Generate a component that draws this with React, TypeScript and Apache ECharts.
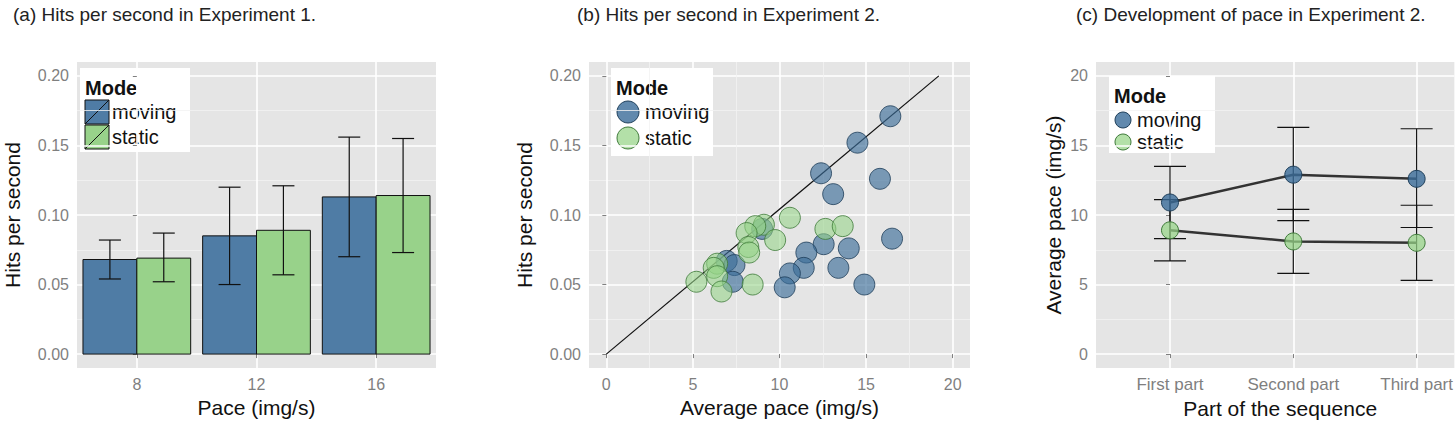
import React, { useEffect, useRef } from 'react';
import * as echarts from 'echarts';

// (a) hits per second in Experiment 1
const paceCats = ['8', '12', '16'];
const barMoving = [0.068, 0.085, 0.113];
const barMovingLo = [0.054, 0.05, 0.07];
const barMovingHi = [0.082, 0.12, 0.156];
const barStatic = [0.069, 0.089, 0.114];
const barStaticLo = [0.052, 0.057, 0.073];
const barStaticHi = [0.087, 0.121, 0.155];

// (b) pace vs hits, Experiment 2
const scatMoving = [
  [16.4, 0.171], [14.5, 0.152], [12.4, 0.13], [15.8, 0.126], [13.1, 0.115],
  [9.0, 0.09], [16.5, 0.083], [12.55, 0.079], [14.0, 0.076], [11.55, 0.073],
  [6.95, 0.067], [7.4, 0.064], [11.4, 0.062], [13.4, 0.062], [10.6, 0.058],
  [7.3, 0.052], [14.9, 0.05], [10.3, 0.048],
];
const scatStatic = [
  [10.6, 0.098], [9.1, 0.093], [8.6, 0.092], [12.65, 0.09], [13.65, 0.092],
  [8.1, 0.087], [9.75, 0.082], [8.2, 0.077], [8.25, 0.073], [6.4, 0.065],
  [6.2, 0.062], [6.4, 0.056], [5.2, 0.052], [8.45, 0.05], [6.65, 0.045],
];
const refLine = [[0, 0], [19.2, 0.2]];

// (c) development of pace
const partCats = ['First part', 'Second part', 'Third part'];
const paceMoving = [10.9, 12.9, 12.6];
const paceMovingLo = [8.3, 9.6, 9.1];
const paceMovingHi = [13.5, 16.3, 16.2];
const paceStatic = [8.9, 8.1, 8.0];
const paceStaticLo = [6.7, 5.8, 5.3];
const paceStaticHi = [11.1, 10.4, 10.7];

const hitTicks = [0, 0.05, 0.1, 0.15, 0.2];
const hitMinor = [0.025, 0.075, 0.125, 0.175];
const paceTicks = [0, 5, 10, 15, 20];
const paceMinor = [2.5, 7.5, 12.5, 17.5];

const BLUE = '#4f7ca5';
const GREEN = '#98d28a';
const PT_BLUE = 'rgba(58,108,152,0.8)';
const PT_GREEN = 'rgba(150,212,135,0.72)';
const PANEL = '#e5e5e5';
const TICK_GREY = '#7f7f7f';

const majorAxis = (ticks: number[], fmt?: (v: number) => string, size = 16) => ({
  axisLine: { show: false },
  axisTick: { show: true, customValues: ticks, length: 4, lineStyle: { color: TICK_GREY } },
  axisLabel: {
    customValues: ticks, color: TICK_GREY, fontSize: size, fontFamily: 'Liberation Sans',
    formatter: fmt, margin: 8,
  },
  splitLine: { show: true, lineStyle: { color: '#ffffff', width: 1.6 } },
});
const minorAxis = (ticks: number[]) => ({
  axisLine: { show: false },
  axisTick: { show: false, customValues: ticks },
  axisLabel: { show: false, customValues: ticks },
  splitLine: { show: true, lineStyle: { color: '#f2f2f2', width: 0.8 } },
});
const nameStyle = { fontSize: 21, color: '#111', fontFamily: 'Liberation Sans' };

const errorSeries = (xi: number, yi: number, data: number[][], lo: number[], hi: number[], half: number, offs: number) => ({
  type: 'custom',
  xAxisIndex: xi,
  yAxisIndex: yi,
  z: 5,
  silent: true,
  data: data,
  renderItem: (params: any, api: any) => {
    const i = params.dataIndex;
    const x = api.value(0) + offs;
    const a = api.coord([x, lo[i]]);
    const b = api.coord([x, hi[i]]);
    const st = { stroke: '#111', lineWidth: 1.2 };
    return {
      type: 'group',
      children: [
        { type: 'line', shape: { x1: a[0], y1: a[1], x2: b[0], y2: b[1] }, style: st },
        { type: 'line', shape: { x1: a[0] - half, y1: a[1], x2: a[0] + half, y2: a[1] }, style: st },
        { type: 'line', shape: { x1: b[0] - half, y1: b[1], x2: b[0] + half, y2: b[1] }, style: st },
      ],
    };
  },
});

const legendBox = (x: number, y: number, w: number, h: number, kind: 'bar' | 'dot', r: number, rowGap: number) => {
  const ch: any[] = [
    { type: 'rect', shape: { x: 0, y: 0, width: w, height: h }, style: { fill: '#fff' } },
    { type: 'text', x: 5, y: 20, style: { text: 'Mode', fontSize: 20, fontWeight: 'bold', fill: '#111', fontFamily: 'Liberation Sans', verticalAlign: 'middle' } },
  ];
  const labels = ['moving', 'static'];
  labels.forEach((l, i) => {
    const cy = 44 + i * rowGap;
    if (kind === 'bar') {
      ch.push({ type: 'rect', shape: { x: 5, y: cy - 12, width: 24, height: 24 }, style: { fill: i ? GREEN : BLUE, stroke: '#111', lineWidth: 1 } });
      ch.push({ type: 'line', shape: { x1: 5, y1: cy + 12, x2: 29, y2: cy - 12 }, style: { stroke: '#111', lineWidth: 1 } });
    } else {
      ch.push({ type: 'circle', shape: { cx: 6 + r, cy, r }, style: { fill: i ? PT_GREEN : PT_BLUE, stroke: i ? '#3f7a3a' : '#1f3f5a', lineWidth: 1 } });
    }
    ch.push({ type: 'text', x: kind === 'bar' ? 32 : 12 + 2 * r, y: cy, style: { text: l, fontSize: 20, fill: '#111', fontFamily: 'Liberation Sans', verticalAlign: 'middle' } });
  });
  return { type: 'group', x, y, children: ch };
};

const App: React.FC = () => {
  const chartRef = useRef<HTMLDivElement>(null);

  useEffect(() => {
    document.body.style.margin = '0';
    const chartDom = chartRef.current!;
    const myChart = echarts.init(chartDom, undefined, { renderer: 'svg' });

    const idx = (arr: number[]) => arr.map((v, i) => [i, v]);
    const titleStyle = { fontSize: 19, fontWeight: 'normal', color: '#222', fontFamily: 'Liberation Sans' };

    const option: any = {
      animation: false,
      title: [
        { text: '(a) Hits per second in Experiment 1.', left: 8, top: 0, textStyle: titleStyle },
        { text: '(b) Hits per second in Experiment 2.', left: 572, top: 0, textStyle: titleStyle },
        { text: '(c) Development of pace in Experiment 2.', left: 1071, top: 0, textStyle: titleStyle },
      ],
      grid: [
        { left: 77, width: 359, top: 62, height: 306, show: true, backgroundColor: PANEL, borderWidth: 0 },
        { left: 589, width: 381, top: 62, height: 306, show: true, backgroundColor: PANEL, borderWidth: 0 },
        { left: 1096, width: 360, top: 62, height: 306, show: true, backgroundColor: PANEL, borderWidth: 0 },
      ],
      xAxis: [
        {
          type: 'value', gridIndex: 0, min: -0.5, max: 2.5,
          ...majorAxis([0, 1, 2], (v: number) => paceCats[Math.round(v)]),
          name: 'Pace (img/s)', nameLocation: 'middle', nameGap: 29, nameTextStyle: nameStyle,
        },
        {
          type: 'value', gridIndex: 1, min: -1, max: 21,
          ...majorAxis([0, 5, 10, 15, 20]),
          name: 'Average pace (img/s)', nameLocation: 'middle', nameGap: 29, nameTextStyle: nameStyle,
        },
        {
          type: 'value', gridIndex: 2, min: -0.6, max: 2.306,
          ...majorAxis([0, 1, 2], (v: number) => partCats[Math.round(v)], 17),
          name: 'Part of the sequence', nameLocation: 'middle', nameGap: 29,
          nameTextStyle: { ...nameStyle, padding: [0, 0, 0, 10] },
        },
        { type: 'value', gridIndex: 1, min: -1, max: 21, ...minorAxis(paceMinor) },
      ],
      yAxis: [
        {
          type: 'value', gridIndex: 0, min: -0.01, max: 0.21,
          ...majorAxis(hitTicks, (v: number) => v.toFixed(2)),
          name: 'Hits per second', nameLocation: 'middle', nameGap: 54, nameTextStyle: nameStyle,
        },
        {
          type: 'value', gridIndex: 1, min: -0.01, max: 0.21,
          ...majorAxis(hitTicks, (v: number) => v.toFixed(2)),
          name: 'Hits per second', nameLocation: 'middle', nameGap: 54, nameTextStyle: nameStyle,
        },
        {
          type: 'value', gridIndex: 2, min: -1, max: 21,
          ...majorAxis(paceTicks),
          name: 'Average pace (img/s)', nameLocation: 'middle', nameGap: 32, nameTextStyle: nameStyle,
        },
        { type: 'value', gridIndex: 0, min: -0.01, max: 0.21, ...minorAxis(hitMinor) },
        { type: 'value', gridIndex: 1, min: -0.01, max: 0.21, ...minorAxis(hitMinor) },
        { type: 'value', gridIndex: 2, min: -1, max: 21, ...minorAxis(paceMinor) },
      ],
      series: [
        {
          type: 'custom', xAxisIndex: 0, yAxisIndex: 0, z: 3, data: idx(barMoving).concat(idx(barStatic).map(([i, v]) => [i + 0.45, v])),
          renderItem: (params: any, api: any) => {
            const x0 = api.value(0) - 0.45;
            const p1 = api.coord([x0, api.value(1)]);
            const p2 = api.coord([x0 + 0.45, 0]);
            const isStatic = params.dataIndex >= barMoving.length;
            return {
              type: 'rect',
              shape: { x: p1[0], y: p1[1], width: p2[0] - p1[0], height: p2[1] - p1[1] },
              style: { fill: isStatic ? GREEN : BLUE, stroke: '#111', lineWidth: 1 },
            };
          },
        },
        errorSeries(0, 0, idx(barMoving), barMovingLo, barMovingHi, 11, -0.225),
        errorSeries(0, 0, idx(barStatic), barStaticLo, barStaticHi, 11, 0.225),
        {
          type: 'line', xAxisIndex: 1, yAxisIndex: 1, data: refLine, symbol: 'none',
          lineStyle: { color: '#111', width: 1.2 }, z: 2,
        },
        {
          type: 'scatter', xAxisIndex: 1, yAxisIndex: 1, data: scatMoving, symbolSize: 21, z: 3,
          itemStyle: { color: PT_BLUE, borderColor: '#1f3f5a', borderWidth: 1 },
        },
        {
          type: 'scatter', xAxisIndex: 1, yAxisIndex: 1, data: scatStatic, symbolSize: 21, z: 3,
          itemStyle: { color: PT_GREEN, borderColor: '#3f7a3a', borderWidth: 1 },
        },
        errorSeries(2, 2, idx(paceMoving), paceMovingLo, paceMovingHi, 16, 0),
        errorSeries(2, 2, idx(paceStatic), paceStaticLo, paceStaticHi, 16, 0),
        {
          type: 'line', xAxisIndex: 2, yAxisIndex: 2, data: idx(paceMoving), symbol: 'circle', symbolSize: 17, z: 6,
          lineStyle: { color: '#333', width: 2.5 },
          itemStyle: { color: PT_BLUE, borderColor: '#1f3f5a', borderWidth: 1 },
        },
        {
          type: 'line', xAxisIndex: 2, yAxisIndex: 2, data: idx(paceStatic), symbol: 'circle', symbolSize: 17, z: 6,
          lineStyle: { color: '#333', width: 2.5 },
          itemStyle: { color: PT_GREEN, borderColor: '#3f7a3a', borderWidth: 1 },
        },
      ],
      graphic: [
        legendBox(80, 68, 110, 84, 'bar', 0, 25),
        legendBox(611, 68, 102, 88, 'dot', 11, 26),
        legendBox(1109, 76, 106, 77, 'dot', 8, 22),
      ],
    };

    myChart.setOption(option);
    return () => {
      myChart.dispose();
    };
  }, []);

  return <div ref={chartRef} style={{ width: 1456, height: 424 }} />;
};

export default App;
